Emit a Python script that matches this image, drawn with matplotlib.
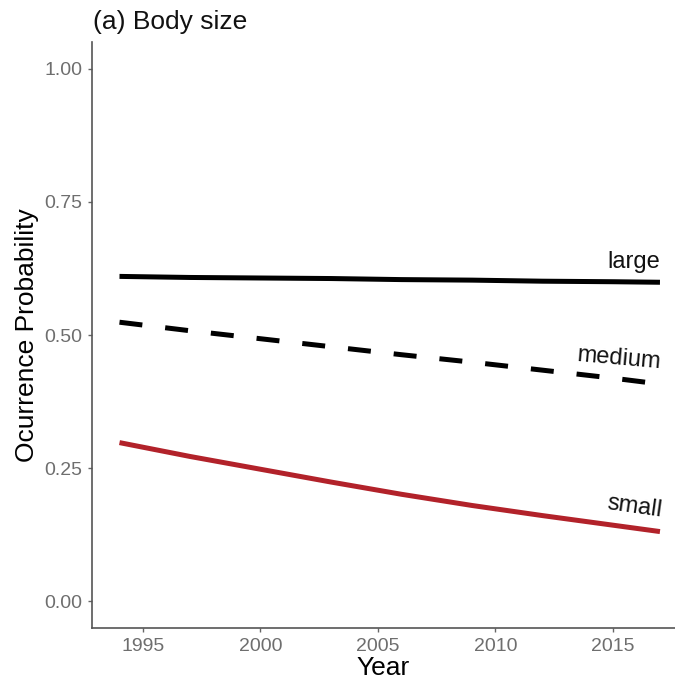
import matplotlib
matplotlib.use("Agg")
import matplotlib.pyplot as plt

# ---- data ----
years = [1994, 1997, 2000, 2003, 2006, 2009, 2012, 2015, 2017]
large = [0.610, 0.608, 0.607, 0.606, 0.604, 0.603, 0.601, 0.600, 0.599]
medium = [0.524, 0.508, 0.493, 0.478, 0.463, 0.449, 0.434, 0.419, 0.408]
small = [0.298, 0.272, 0.248, 0.224, 0.201, 0.180, 0.161, 0.143, 0.131]
series_labels = ["large", "medium", "small"]
x_ticks = [1995, 2000, 2005, 2010, 2015]
y_ticks = [0.00, 0.25, 0.50, 0.75, 1.00]

plt.rcParams['font.family'] = ['Liberation Sans', 'DejaVu Sans']

fig = plt.figure(figsize=(6.75, 6.82), dpi=100)
ax = fig.add_axes([92/675, 54/682, 1 - 92/675, (628-42)/682])

ax.plot(years, large, color="black", lw=3.6, solid_capstyle="butt")
ax.plot(years, medium, color="black", lw=3.6, dashes=(4.6, 4.6), dash_capstyle="butt")
ax.plot(years, small, color="#B2222A", lw=3.6, solid_capstyle="butt")

# series labels at right end
ax.text(years[-1], large[-1] + 0.018, series_labels[0], ha="right", va="bottom",
        fontsize=17, color="#111111")
ax.text(years[-1], medium[-1] + 0.02, series_labels[1], ha="right", va="bottom",
        fontsize=17, color="#111111", rotation=-5, rotation_mode="anchor")
ax.text(years[-1], small[-1] + 0.018, series_labels[2], ha="right", va="bottom",
        fontsize=17, color="#111111", rotation=-8, rotation_mode="anchor")

ax.set_xlim(1992.83, 2017.64)
ax.set_ylim(-0.05, 1.05)
ax.set_xticks(x_ticks)
ax.set_yticks(y_ticks)
ax.set_yticklabels([f"{v:.2f}" for v in y_ticks])

for s in ["top", "right"]:
    ax.spines[s].set_visible(False)
for s in ["left", "bottom"]:
    ax.spines[s].set_color("#555555")
    ax.spines[s].set_linewidth(1.2)
ax.tick_params(axis="both", colors="#666666", length=3, width=1, labelsize=14,
               pad=4)
for lab in ax.get_xticklabels() + ax.get_yticklabels():
    lab.set_color("#6e6e6e")

ax.set_xlabel("Year", fontsize=19, color="black", labelpad=1)
ax.set_ylabel("Ocurrence Probability", fontsize=19, color="black", labelpad=4)

fig.text(93/675, 1 - 22/682, "(a) Body size", fontsize=19, ha="left", va="center",
         color="#111111")

fig.savefig("out.png", dpi=100, facecolor="white")
